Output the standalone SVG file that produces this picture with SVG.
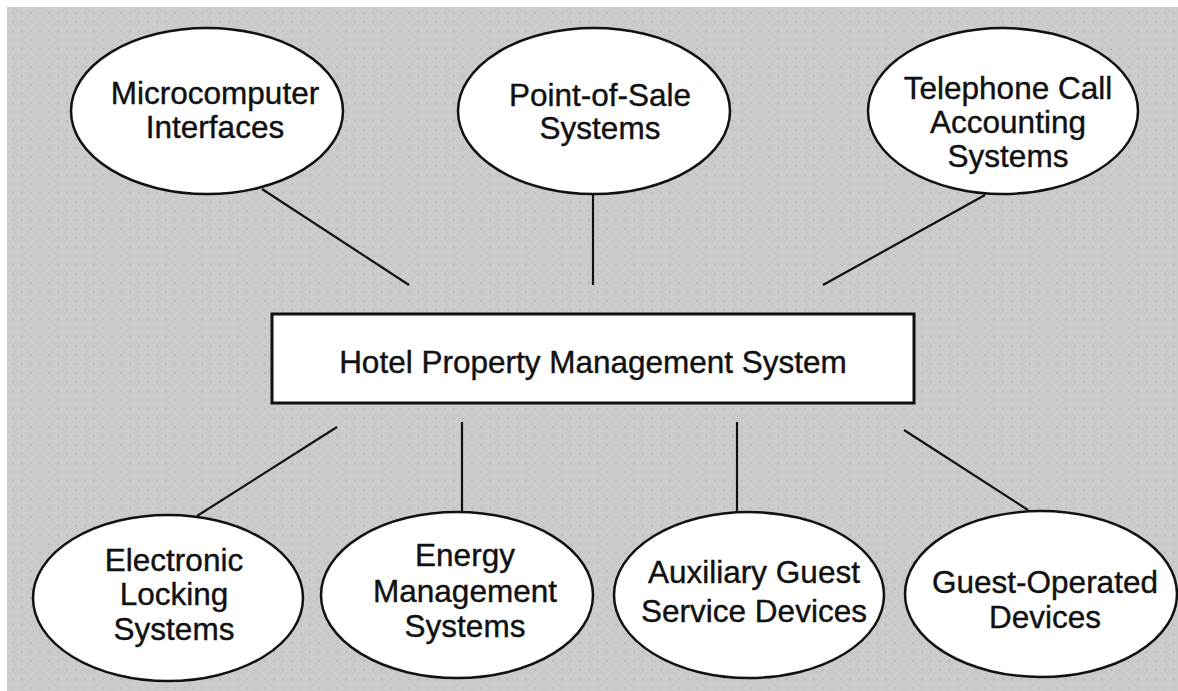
<svg xmlns="http://www.w3.org/2000/svg" width="1178" height="691" viewBox="0 0 1178 691">
<style>
.node ellipse{fill:#ffffff;stroke:#111;stroke-width:2.5}
.node rect{fill:#ffffff;stroke:#111;stroke-width:3}
.node text{font-family:"Liberation Sans",Arial,sans-serif;font-size:31.5px;fill:#111;stroke:#111;stroke-width:0.4;text-anchor:middle}
#connectors line{stroke:#111;stroke-width:2.2}
</style>
<defs>
<pattern id="scan" x="0" y="0" width="9" height="9" patternUnits="userSpaceOnUse">
<rect width="9" height="9" fill="#cbcbcb"/>
<rect x="3" y="3" width="2" height="2" fill="#bcbcbc"/>
</pattern>
</defs>
<rect x="0" y="0" width="1178" height="691" fill="#ffffff"/>
<rect x="7" y="7" width="1171" height="684" fill="url(#scan)"/>
<g id="connectors">
<line x1="262" y1="189" x2="409" y2="285"/>
<line x1="593" y1="193" x2="593" y2="285"/>
<line x1="985" y1="195" x2="823" y2="285"/>
<line x1="337" y1="427" x2="197" y2="516"/>
<line x1="462" y1="422" x2="462" y2="512"/>
<line x1="737" y1="422" x2="737" y2="512"/>
<line x1="904" y1="430" x2="1028" y2="510"/>
</g>
<g id="microcomputer" class="node">
<ellipse cx="207" cy="111" rx="136" ry="83"/>
<text x="215" y="104">Microcomputer</text>
<text x="215" y="138">Interfaces</text>
</g>
<g id="pos" class="node">
<ellipse cx="594" cy="111" rx="136" ry="83"/>
<text x="600" y="106">Point-of-Sale</text>
<text x="600" y="139">Systems</text>
</g>
<g id="telephone" class="node">
<ellipse cx="1003" cy="111" rx="135" ry="83"/>
<text x="1008" y="99">Telephone Call</text>
<text x="1008" y="133">Accounting</text>
<text x="1008" y="167">Systems</text>
</g>
<g id="pms" class="node">
<rect x="272" y="314" width="642" height="89"/>
<text x="593" y="373">Hotel Property Management System</text>
</g>
<g id="locking" class="node">
<ellipse cx="168" cy="598" rx="135" ry="83"/>
<text x="174" y="571">Electronic</text>
<text x="174" y="605">Locking</text>
<text x="174" y="640">Systems</text>
</g>
<g id="energy" class="node">
<ellipse cx="457" cy="595" rx="136" ry="83"/>
<text x="465" y="566">Energy</text>
<text x="465" y="602">Management</text>
<text x="465" y="637">Systems</text>
</g>
<g id="auxiliary" class="node">
<ellipse cx="749" cy="595" rx="135" ry="83"/>
<text x="754" y="583">Auxiliary Guest</text>
<text x="754" y="622">Service Devices</text>
</g>
<g id="guest-operated" class="node">
<ellipse cx="1041" cy="594" rx="136" ry="83"/>
<text x="1045" y="593">Guest-Operated</text>
<text x="1045" y="628">Devices</text>
</g>
</svg>
